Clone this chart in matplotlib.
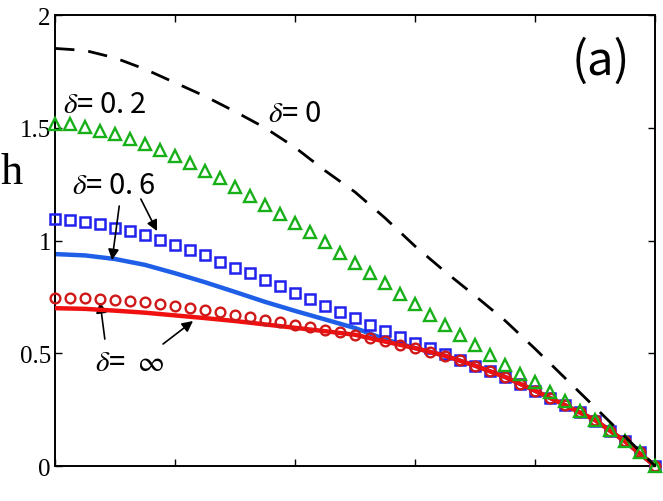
import matplotlib
matplotlib.use("Agg")
import matplotlib.pyplot as plt
import numpy as np

# marker abscissas (41 points, step 0.025)
x_mark = np.linspace(0, 1, 41)

# delta = 0.2 (green triangles)
h_tri = [1.517, 1.517, 1.505, 1.487, 1.472, 1.450, 1.428, 1.403, 1.376, 1.344,
         1.310, 1.276, 1.236, 1.199, 1.159, 1.118, 1.076, 1.036, 0.992, 0.945,
         0.900, 0.856, 0.812, 0.765, 0.717, 0.671, 0.625, 0.581, 0.537, 0.492,
         0.449, 0.408, 0.371, 0.330, 0.290, 0.245, 0.205, 0.161, 0.112, 0.061,
         0.0]

# delta = 0.6 (blue squares)
h_sq = [1.095, 1.092, 1.084, 1.073, 1.057, 1.042, 1.024, 1.002, 0.980, 0.958,
        0.935, 0.907, 0.880, 0.854, 0.825, 0.797, 0.768, 0.739, 0.711, 0.683,
        0.655, 0.627, 0.600, 0.573, 0.547, 0.522, 0.495, 0.470, 0.445, 0.420,
        0.395, 0.365, 0.334, 0.302, 0.270, 0.238, 0.200, 0.157, 0.109, 0.061,
        0.0]

# delta = inf (red circles)
h_circ = [0.745, 0.744, 0.743, 0.739, 0.735, 0.730, 0.726, 0.717, 0.710, 0.701,
          0.692, 0.681, 0.670, 0.662, 0.649, 0.640, 0.627, 0.616, 0.604, 0.593,
          0.580, 0.567, 0.553, 0.538, 0.523, 0.507, 0.489, 0.470, 0.445, 0.421,
          0.395, 0.365, 0.334, 0.302, 0.270, 0.241, 0.204, 0.157, 0.109, 0.061,
          0.0]

# solid / dashed curves (step 0.05)
x_line = np.linspace(0, 1, 21)
h_dash = [1.852, 1.843, 1.810, 1.760, 1.700, 1.640, 1.572, 1.500, 1.413, 1.310,
          1.215, 1.100, 0.975, 0.862, 0.755, 0.645, 0.520, 0.390, 0.260, 0.130,
          0.0]
h_blue = [0.940, 0.934, 0.918, 0.892, 0.855, 0.815, 0.772, 0.728, 0.688, 0.650,
          0.612, 0.562, 0.523, 0.489, 0.445, 0.395, 0.334, 0.270, 0.204, 0.109,
          0.0]
h_red = [0.700, 0.697, 0.689, 0.680, 0.668, 0.656, 0.643, 0.628, 0.613, 0.598,
         0.582, 0.552, 0.523, 0.489, 0.445, 0.395, 0.334, 0.270, 0.204, 0.109,
         0.0]

cjk = ['Noto Sans CJK JP', 'DejaVu Sans']
serif = 'Liberation Serif'
plt.rcParams['mathtext.fontset'] = 'stix'

fig = plt.figure(figsize=(6.63, 5.02), dpi=100)
ax = fig.add_axes([0.083, 0.0697, 0.905, 0.8983])

ax.plot(x_line, h_blue, color='#1f5fe8', lw=3.2, zorder=2)
ax.plot(x_mark, h_sq, ls='none', marker='s', ms=6.8, mfc='none', mec='#2222ee',
        mew=1.8, clip_on=False, zorder=3)
ax.plot(x_line, h_red, color='#f01010', lw=3.2, zorder=4)
ax.plot(x_mark, h_circ, ls='none', marker='o', ms=7, mfc='none', mec='#d01818',
        mew=1.7, clip_on=False, zorder=5)
ax.plot(x_mark, h_tri, ls='none', marker='^', ms=8, mfc='none', mec='#18b018',
        mew=1.7, clip_on=False, zorder=6)
ax.plot(x_line, h_dash, color='black', lw=2, ls=(0, (7, 5)), zorder=7)

ax.set_xlim(0, 1)
ax.set_ylim(0, 2)
ax.set_xticks([0, 0.2, 0.4, 0.6, 0.8, 1.0])
ax.set_xticklabels([])
ax.set_yticks([0, 0.5, 1, 1.5, 2])
ax.set_yticklabels(['0', '0.5', '1', '1.5', '2'])
ax.tick_params(direction='in', length=5, width=1, top=True, right=True, pad=3,
               labelsize=18, labelfontfamily=serif)
for s in ax.spines.values():
    s.set_linewidth(1.4)

fig.text(0.017, 0.655, 'h', fontfamily=serif, fontsize=32, ha='center', va='center')

fs = 21
ax.text(0.013, 1.605, r'$\delta$= 0. 2', family=cjk, fontsize=fs, ha='left', va='center')
ax.text(0.355, 1.565, r'$\delta$= 0', family=cjk, fontsize=fs, ha='left', va='center')
ax.text(0.028, 1.247, r'$\delta$= 0. 6', family=cjk, fontsize=fs, ha='left', va='center')
ax.text(0.067, 0.462, r'$\delta$=  $\infty$', family=cjk, fontsize=fs, ha='left', va='center')
ax.text(0.958, 1.8, '(a)', family=cjk, fontsize=34, ha='right', va='center')

arr = dict(arrowstyle='-|>', color='black', lw=1.2, mutation_scale=16,
           shrinkA=0, shrinkB=0)
ax.annotate('', xy=(0.095, 0.913), xytext=(0.107, 1.153), arrowprops=arr)
ax.annotate('', xy=(0.170, 1.042), xytext=(0.143, 1.184), arrowprops=arr)
ax.annotate('', xy=(0.075, 0.727), xytext=(0.083, 0.563), arrowprops=arr)
ax.annotate('', xy=(0.230, 0.643), xytext=(0.180, 0.541), arrowprops=arr)

fig.savefig('out.png', dpi=100)
